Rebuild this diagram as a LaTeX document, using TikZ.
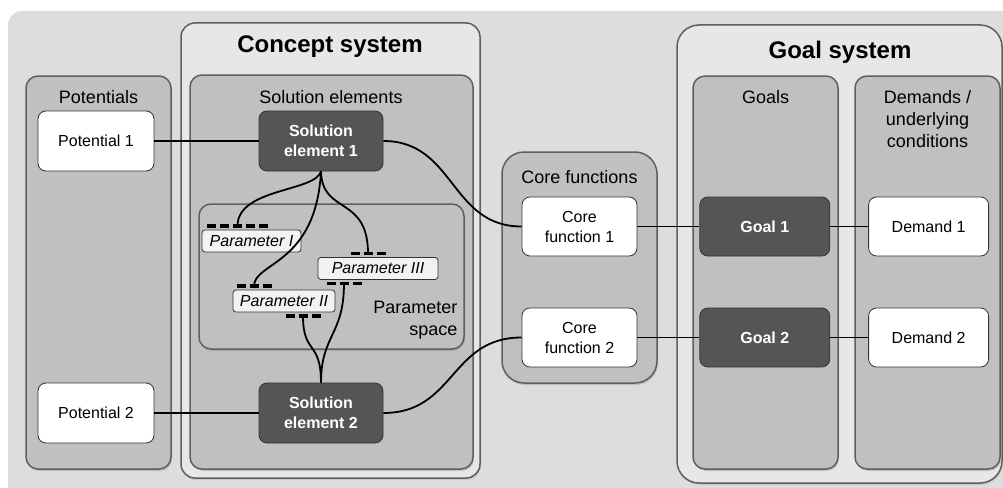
\documentclass[tikz,border=0pt]{standalone}
\usepackage{fontspec}
\setmainfont{Liberation Sans}
\usetikzlibrary{positioning}
\usetikzlibrary{calc}
\usetikzlibrary{shadows}

\definecolor{bgcol}{HTML}{DDDDDD}
\definecolor{syscol}{HTML}{E7E7E7}
\definecolor{grpcol}{HTML}{C0C0C0}
\definecolor{rimcol}{HTML}{5F5F5F}
\definecolor{darkcol}{HTML}{555555}

\begin{document}
\begin{tikzpicture}[x=1pt,y=-1pt,node distance=38pt,every node/.append style={align=center},
        sys/.style={draw=rimcol, line width=1.5pt, fill=syscol, rounded corners=14pt, drop shadow={opacity=0.2, shadow xshift=1pt, shadow yshift=-2pt}},
        grp/.style={draw=rimcol, line width=1.5pt, fill=grpcol, rounded corners=12pt, drop shadow={opacity=0.35, shadow xshift=1pt, shadow yshift=-2pt}},
        lite/.style={draw=black!80, line width=0.8pt, fill=white, rounded corners=8pt, minimum width=116pt, minimum height=60pt, font=\fontsize{16}{20}\selectfont},
        dark/.style={lite, fill=darkcol, text=white, font=\fontsize{16}{20}\selectfont\bfseries},
        par/.style={draw=black!80, line width=0.8pt, fill=black!5, rounded corners=3pt, minimum height=22pt, inner xsep=3pt, inner ysep=0pt, font=\fontsize{16}{19}\selectfont\itshape},
        lbl/.style={font=\fontsize{18}{22}\selectfont},
        ttl/.style={font=\fontsize{24}{28}\selectfont\bfseries},
        dsh/.style={line width=3.5pt, dash pattern=on 9pt off 4pt},
        con/.style={line width=1.8pt}]
        \useasboundingbox (0,0) rectangle (1003,487);
        \fill[bgcol, rounded corners=14pt] (8,11) rectangle (1030,510);

        \draw[sys] (181,23) rectangle (480,478);
        \draw[sys, rounded corners=22pt] (677,25) rectangle (1002,483);
        \node[ttl] (cstitle) at (330,47) {Concept system};
        \node[ttl] (gstitle) at (840,52) {Goal system};

        \draw[grp] (26,76) rectangle (171,469);
        \draw[grp] (190,75) rectangle (473,469);
        \draw[grp] (199,204) rectangle (464,349);
        \draw[grp, rounded corners=22pt] (502,152) rectangle (657,383);
        \draw[grp] (693,76) rectangle (838,469);
        \draw[grp] (855,76) rectangle (1000,469);

        \node[lbl] (potlbl) at (98.5,97) {Potentials};
        \node[lbl] (sollbl) at (331,97) {Solution elements};
        \node[lbl, align=right, anchor=east] (parlbl) at (461,320) {Parameter\\space};
        \node[lbl] (corelbl) at (579.5,177) {Core functions};
        \node[lbl] (goallbl) at (765.5,97) {Goals};
        \node[lbl] (demlbl) at (927.5,119) {Demands /\\underlying\\conditions};

        \node[lite] (pot1) at (96,141) {Potential 1};
        \node[lite] (pot2) at (96,413) {Potential 2};
        \node[dark, minimum width=124pt] (sol1) at (321,141) {Solution\\element 1};
        \node[dark, minimum width=124pt] (sol2) at (321,413) {Solution\\element 2};
        \node[lite, minimum width=115pt, minimum height=59pt] (core1) at (579.5,226.5) {Core\\function 1};
        \node[lite, minimum width=115pt, minimum height=59pt] (core2) at (579.5,337.5) {Core\\function 2};
        \node[dark, minimum width=130pt, minimum height=59pt, right=62pt of core1] (goal1) {Goal 1};
        \node[dark, minimum width=130pt, minimum height=59pt, right=62pt of core2] (goal2) {Goal 2};
        \node[lite, minimum width=120pt, minimum height=59pt, right=of goal1] (dem1) {Demand 1};
        \node[lite, minimum width=120pt, minimum height=59pt, right=of goal2] (dem2) {Demand 2};

        \node[par, minimum width=99pt] (parI) at (251.5,241) {Parameter I};
        \node[par, minimum width=102pt] (parII) at (284,301) {Parameter II};
        \node[par, minimum width=120pt] (parIII) at (378,268.5) {Parameter III};

        \coordinate (tI) at ($(parI.north)+(-14,-3.5)$);
        \coordinate (tII) at ($(parII.north)+(-30,-3.5)$);
        \coordinate (bII) at ($(parII.south)+(19,3.5)$);
        \coordinate (tIII) at ($(parIII.north)+(-10,-3.5)$);
        \coordinate (bIII) at ($(parIII.south)+(-34,3.5)$);
        \draw[dsh] ($(tI)+(-30.5,0)$) -- +(61,0);
        \draw[dsh] ($(tII)+(-17.5,0)$) -- +(35,0);
        \draw[dsh] ($(bII)+(-17.5,0)$) -- +(35,0);
        \draw[dsh] ($(tIII)+(-17.5,0)$) -- +(35,0);
        \draw[dsh] ($(bIII)+(-17.5,0)$) -- +(35,0);

        \path (pot1) edge[con] (sol1);
        \path (pot2) edge[con] (sol2);
        \path (core1) edge[con] (goal1);
        \path (goal1) edge[con] (dem1);
        \path (core2) edge[con] (goal2);
        \path (goal2) edge[con] (dem2);
        \draw[con] (sol1.south) .. controls (315,192) and (237.5,188) .. (tI);
        \draw[con] (sol1.south) .. controls (316,265) and (254,262) .. (tII);
        \draw[con] (sol1.south) .. controls (322,215) and (368,195) .. (tIII);
        \draw[con] (bII) .. controls (303,355) and (321,340) .. (sol2.north);
        \draw[con] (bIII) .. controls (344,335) and (321,335) .. (sol2.north);
        \draw[con] (sol1.east) .. controls (455,141) and (450,226.5) .. (core1.west);
        \draw[con] (sol2.east) .. controls (455,413) and (450,337.5) .. (core2.west);
    \end{tikzpicture}
\end{document}
